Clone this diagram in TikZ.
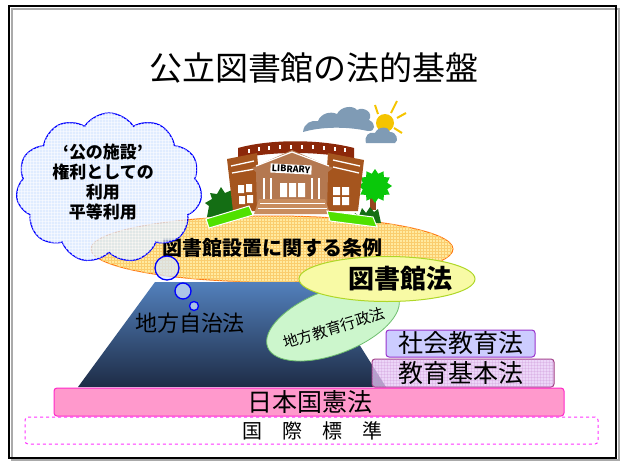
\documentclass[tikz,border=0pt]{standalone}
\usepackage{fontspec}
\setmainfont{Noto Sans CJK JP}
\usetikzlibrary{shapes.geometric,shapes.symbols,patterns}

\definecolor{frameshadow}{RGB}{170,170,170}
\definecolor{cloudfill}{RGB}{214,230,255}
\definecolor{cloudline}{RGB}{0,0,255}
\definecolor{joreifill}{RGB}{255,234,160}
\definecolor{joreigrid}{RGB}{250,205,110}
\definecolor{joreiline}{RGB}{255,120,20}
\definecolor{traptop}{RGB}{82,128,188}
\definecolor{trapbot}{RGB}{30,44,70}
\definecolor{gyoseifill}{RGB}{204,246,204}
\definecolor{gyoseiline}{RGB}{110,190,110}
\definecolor{hofill}{RGB}{248,250,165}
\definecolor{holine}{RGB}{175,215,40}
\definecolor{shakaifill}{RGB}{204,204,255}
\definecolor{shakailine}{RGB}{153,51,204}
\definecolor{kihonfill}{RGB}{230,200,245}
\definecolor{kihonline}{RGB}{160,60,130}
\definecolor{kenpofill}{RGB}{255,153,204}
\definecolor{kenpoline}{RGB}{255,40,200}
\definecolor{kokusailine}{RGB}{255,50,255}
\definecolor{roofbrown}{RGB}{140,40,10}
\definecolor{wingbrown}{RGB}{165,85,30}
\definecolor{porchtan}{RGB}{180,120,80}
\definecolor{steptan}{RGB}{200,140,95}
\definecolor{grass}{RGB}{80,225,0}
\definecolor{leafdark}{RGB}{20,110,20}
\definecolor{leaflight}{RGB}{10,200,10}
\definecolor{trunk}{RGB}{150,70,30}
\definecolor{skycloud}{RGB}{127,155,181}
\definecolor{sun}{RGB}{245,196,0}

\tikzset{
  lawbox/.style={rounded corners=3pt, line width=1pt, inner sep=0pt},
  bigtext/.style={font=\fontsize{25}{25}\selectfont},
  bubble/.style={circle, draw=cloudline, line width=1.3pt, fill=cloudfill,
    fill opacity=0.7, draw opacity=1, inner sep=0pt},
  puff/.style={fill=skycloud},
}

\begin{document}
\begin{tikzpicture}[x=1pt,y=-1pt]
\useasboundingbox (0,0) rectangle (622,461);

% slide frame with soft shadow
\draw[frameshadow, line width=2pt] (12,9) rectangle (619,460);
\draw[black, line width=2.4pt] (9,6) rectangle (616,458);

% title
\node (title) at (314,68) {\fontsize{33}{33}\selectfont 公立図書館の法的基盤};

% base layer: the prefecture ordinance ellipse
\node[ellipse, draw=joreiline, line width=1pt, fill=joreifill,
      postaction={pattern=grid, pattern color=joreigrid},
      minimum width=362pt, minimum height=66pt, inner sep=0pt] (jorei) at (272,249) {};

% local autonomy block
\shade[top color=traptop, bottom color=trapbot] (155,282) -- (320,282) -- (386,387) -- (78,387) -- cycle;
\node (jichi) at (190,323) {\fontsize{22}{22}\selectfont 地方自治法};

% sky: clouds and sun
\fill[sun] (385,123) circle (9);
\foreach \a/\b/\c/\d in {375/105/378/114, 397/101/391/113, 406/113/397/118, 402/133/394/128}
  \draw[sun, line width=2pt] (\a,\b) -- (\c,\d);
\fill[puff] (303,132) .. controls (304,123) and (311,120) .. (318,121)
  .. controls (321,113) and (331,111) .. (337,114)
  .. controls (341,106) and (353,105) .. (357,110)
  .. controls (364,106) and (374,113) .. (369,120)
  .. controls (376,123) and (376,132) .. (368,131)
  .. controls (345,126) and (320,127) .. (303,132) -- cycle;
\fill[puff] (366,143) .. controls (364,136) and (369,131) .. (375,133)
  .. controls (378,126) and (389,126) .. (390,132)
  .. controls (397,132) and (399,141) .. (395,143) -- cycle;

% library building
\fill[leafdark] (207,217) -- (209,206) -- (205,203) -- (212,199) -- (210,193) -- (217,194)
  -- (221,187) -- (225,193) -- (232,190) -- (234,217) -- cycle;
\fill[trunk] (370,198) rectangle (376,210);
\node[star, star points=12, star point ratio=1.35, fill=leaflight, minimum size=34pt,
      inner sep=0pt] (tree) at (375,186) {};
\fill[leafdark] (352,223) -- (355,213) -- (359,216) -- (362,208) -- (366,213) -- (370,207)
  -- (374,212) -- (378,209) -- (381,223) -- cycle;

\fill[roofbrown] (238,148) .. controls (270,139) and (320,139) .. (354,148)
  -- (354,159) .. controls (320,151) and (270,151) .. (238,159) -- cycle;
\foreach \x/\y in {248/149,258/147,268/146,279/145,290/145,301/145,312/145,323/146,334/147,344/148}
  \fill[white] (\x,\y) rectangle ++(1.6,4);

\fill[wingbrown] (227,159) -- (257,153) -- (262,211) -- (233,211) -- cycle;
\draw[white, line width=1.3pt] (231,166) -- (254,161) (232,173) -- (255,169);
\fill[white] (238,185) rectangle ++(6,8) (246,184) rectangle ++(6,8)
             (239,196) rectangle ++(6,8) (247,195) rectangle ++(6,8);

\fill[wingbrown] (328,153) -- (364,160) -- (358,211) -- (324,211) -- cycle;
\draw[white, line width=1.3pt] (333,160) -- (360,166) (333,167) -- (359,173);
\fill[white] (333,187) rectangle ++(7,8) (342,187) rectangle ++(7,8)
             (333,197) rectangle ++(7,8) (342,197) rectangle ++(7,8);

\fill[porchtan] (252,168) -- (292,150) -- (333,168) -- (328,172) -- (327,212)
  -- (257,212) -- (256,172) -- cycle;
\draw[white, line width=1.2pt] (256,166) -- (292,152) -- (329,166);
\foreach \x in {264,271,312,319}
  \draw[white, line width=1.2pt] (\x,178) -- (\x,199);
\fill[white] (280,183) rectangle ++(7,14) (289,183) rectangle ++(7,14) (298,183) rectangle ++(7,14);
\fill[steptan] (259,199) -- (325,199) -- (330,214) -- (254,214) -- cycle;
\draw[white, line width=1pt] (260,203) -- (325,203) (258,208) -- (327,208);
\node[fill=white, inner sep=1.2pt, rotate=-3] (sign) at (291,169)
  {\fontsize{9}{9}\selectfont\bfseries LIBRARY};

\fill[grass, draw=white, line width=1pt] (206,219) -- (249,206) -- (253,215) -- (209,228) -- cycle;
\fill[grass, draw=white, line width=1pt] (327,211) -- (373,217) -- (377,227) -- (330,221) -- cycle;

\node (joreitext) at (272,248) {\fontsize{20}{20}\selectfont\bfseries 図書館設置に関する条例};

% local education administration
\node[ellipse, draw=gyoseiline, line width=0.8pt, fill=gyoseifill, rotate=21,
      minimum width=140pt, minimum height=64pt, inner sep=0pt] (gyosei) at (333,322) {};
\node[rotate=17, inner sep=0pt] (gyoseitext) at (334,328) {\fontsize{15}{15}\selectfont 地方教育行政法};

% library law
\node[ellipse, draw=holine, line width=1pt, fill=hofill,
      minimum width=176pt, minimum height=45pt, inner sep=0pt] (ho) at (387,279) {};
\node (hotext) at (400,279) {\fontsize{26}{26}\selectfont\bfseries 図書館法};

% statutes stacked at the foot
\node[lawbox, draw=shakailine, fill=shakaifill, minimum width=149pt, minimum height=27pt]
  (shakai) at (460.5,343.5) {};
\node[bigtext] at (shakai.center) {社会教育法};
\node[lawbox, draw=kihonline, fill=kihonfill, fill opacity=0.75,
      postaction={pattern=grid, pattern color=kihonfill!70!violet, opacity=0.25},
      minimum width=182pt, minimum height=28pt] (kihon) at (463,373) {};
\node[bigtext] at (461,373) {教育基本法};
\node[lawbox, draw=kenpoline, fill=kenpofill, minimum width=510pt, minimum height=28pt]
  (kenpo) at (309,402) {};
\node[bigtext] at (310,402) {日本国憲法};
\node[lawbox, draw=kokusailine, dashed, minimum width=573pt, minimum height=27pt]
  (kokusai) at (311.5,430.5) {};
\node at (312,431) {\fontsize{20}{20}\selectfont 国\hspace{1em}際\hspace{1em}標\hspace{1em}準};

% thought cloud
\node[cloud, cloud puffs=11, cloud puff arc=115, cloud ignores aspect, draw=cloudline,
      line width=1.2pt, fill=cloudfill, fill opacity=0.75,
      postaction={pattern=grid, pattern color=white, opacity=0.5},
      minimum width=186pt, minimum height=150pt, inner sep=0pt] (cloud) at (109,188) {};
\node[align=center, font=\fontsize{17}{20}\selectfont\bfseries] (cloudtext) at (103,182)
  {‘公の施設’\\権利としての\\利用\\平等利用};
\node[bubble, minimum size=24pt] (b1) at (167,268) {};
\node[bubble, minimum size=16pt] (b2) at (183,291) {};
\node[bubble, minimum size=9pt] (b3) at (194,306) {};
\end{tikzpicture}
\end{document}
